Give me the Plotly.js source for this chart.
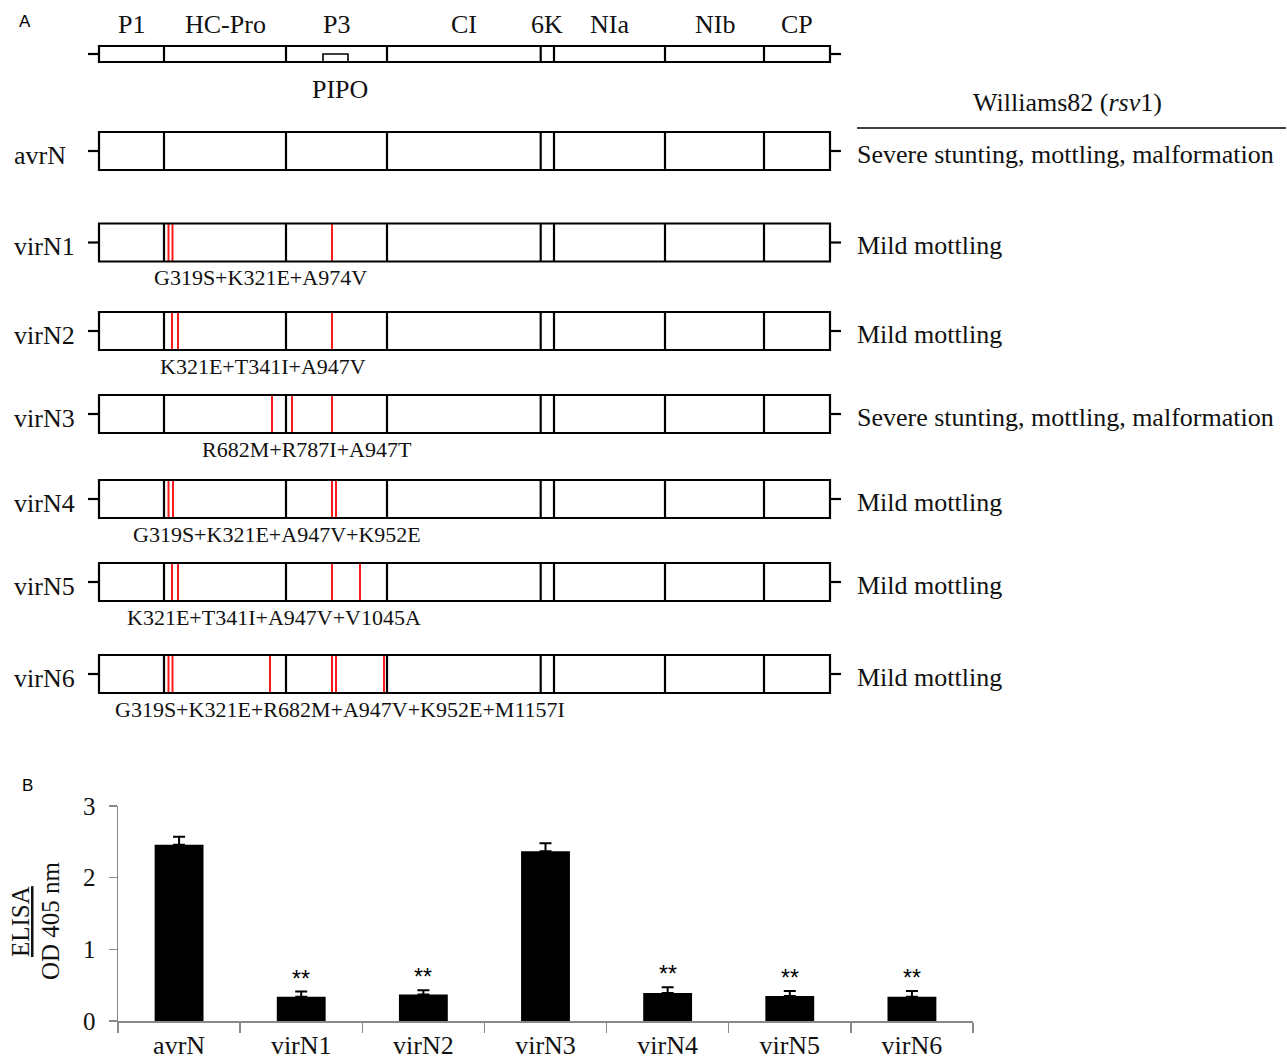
<!DOCTYPE html>
<html>
<head>
<meta charset="utf-8">
<script src="https://cdn.plot.ly/plotly-3.0.1.min.js"></script>
<style>html,body{margin:0;padding:0;background:#fff;}#chart{width:1287px;height:1064px;}</style>
</head>
<body>
<div id="chart"></div>
<script>
// ---------- DATA ----------
// Panel A: schematic genome map (positions in schematic map units along the polyprotein)
const proteins = ['P1', 'HC-Pro', 'P3', 'CI', '6K', 'NIa', 'NIb', 'CP'];
const proteinBounds = [0, 65, 187, 288, 441.7, 455, 566, 665, 731];
const pipoSpan = [224, 249];
const isolates = ['avrN', 'virN1', 'virN2', 'virN3', 'virN4', 'virN5', 'virN6'];
const mutationLabels = ['', 'G319S+K321E+A974V', 'K321E+T341I+A947V', 'R682M+R787I+A947T',
  'G319S+K321E+A947V+K952E', 'K321E+T341I+A947V+V1045A', 'G319S+K321E+R682M+A947V+K952E+M1157I'];
const mutationSites = [[], [69.5, 73.5, 233], [73, 79, 233], [173, 193, 233], [69.5, 74, 233, 237],
  [73, 79, 233, 261], [69.5, 73.5, 171, 233, 237, 285]];
const symptoms = ['Severe stunting, mottling, malformation', 'Mild mottling', 'Mild mottling',
  'Severe stunting, mottling, malformation', 'Mild mottling', 'Mild mottling', 'Mild mottling'];
const hostLabel = 'Williams82 (<i>rsv</i>1)';

// Panel B: ELISA OD405
const categories = ['avrN', 'virN1', 'virN2', 'virN3', 'virN4', 'virN5', 'virN6'];
const elisaMean = [2.46, 0.34, 0.37, 2.37, 0.39, 0.35, 0.34];
const elisaErr = [0.11, 0.07, 0.06, 0.11, 0.08, 0.07, 0.08];
const significance = ['', '**', '**', '', '**', '**', '**'];
const yTicks = [0, 1, 2, 3];

// ---------- LAYOUT CONSTANTS ----------
const W = 1287, H = 1064;
const mapLeft = 99;             // page x of map unit 0
const topBarY = [46, 62];
const rowY = [151, 242.5, 331, 414, 499, 582, 674];
const boxHalf = 19;
const mutLabelX = [0, 161.5, 164, 207.7, 177.5, 175, 241];
const serif = 'Liberation Serif, Times New Roman, serif';
const sans = 'Liberation Sans, Arial, sans-serif';
const txt = '#111';
const mapEnd = proteinBounds[proteinBounds.length - 1];

const shapes = [];
const annotations = [];
const LW = 2.2;
function seg(x0, y0, x1, y1, color, w) {
  shapes.push({type: 'line', xref: 'x2', yref: 'y2', x0, y0, x1, y1,
    line: {color: color || '#000', width: w || LW}});
}
function genomeBox(yTop, yBot) {
  const yc = (yTop + yBot) / 2;
  shapes.push({type: 'rect', xref: 'x2', yref: 'y2', x0: proteinBounds[0], x1: mapEnd,
    y0: yTop, y1: yBot, line: {color: '#000', width: LW}});
  for (let i = 1; i < proteinBounds.length - 1; i++) seg(proteinBounds[i], yTop, proteinBounds[i], yBot);
  seg(-11, yc, 0, yc);
  seg(mapEnd, yc, mapEnd + 11, yc);
}
// top map
genomeBox(topBarY[0], topBarY[1]);
shapes.push({type: 'rect', xref: 'x2', yref: 'y2', x0: pipoSpan[0], x1: pipoSpan[1],
  y0: 54, y1: topBarY[1], line: {color: '#000', width: 1.6}});
for (let i = 0; i < proteins.length; i++) {
  annotations.push({xref: 'x2', yref: 'y2', x: (proteinBounds[i] + proteinBounds[i + 1]) / 2, y: 24,
    xanchor: 'center', yanchor: 'middle',
    text: proteins[i], showarrow: false, font: {family: serif, size: 26, color: txt}});
}
annotations.push({xref: 'x2', yref: 'y2', x: (pipoSpan[0] + pipoSpan[1]) / 2 + 4, y: 89, text: 'PIPO',
  xanchor: 'center', yanchor: 'middle',
  showarrow: false, font: {family: serif, size: 26, color: txt}});

// red mutation lines as a trace
const mx = [], my = [];
isolates.forEach((iso, r) => {
  genomeBox(rowY[r] - boxHalf, rowY[r] + boxHalf);
  mutationSites[r].forEach(p => { mx.push(p, p, null); my.push(rowY[r] - boxHalf, rowY[r] + boxHalf, null); });
  annotations.push({xref: 'x2', yref: 'y2', x: -87, y: rowY[r] + 4, xanchor: 'left', yanchor: 'middle', text: iso,
    showarrow: false, font: {family: serif, size: 26, color: txt}});
  annotations.push({xref: 'x2', yref: 'y2', x: mapEnd + 25, y: rowY[r] + 3, xanchor: 'left', yanchor: 'middle',
    text: symptoms[r], showarrow: false, font: {family: serif, size: 26, color: txt}});
  if (mutationLabels[r]) {
    annotations.push({xref: 'x2', yref: 'y2', x: mutLabelX[r], y: rowY[r] + boxHalf + 16, text: mutationLabels[r],
      xanchor: 'center', yanchor: 'middle',
      showarrow: false, font: {family: serif, size: 22, color: txt}});
  }
});
annotations.push({xref: 'x2', yref: 'y2', x: 1067 - mapLeft, y: 102, text: hostLabel, showarrow: false,
  xanchor: 'center', yanchor: 'middle', font: {family: serif, size: 26, color: txt}});
seg(857 - mapLeft, 128, 1286 - mapLeft, 128, '#000', 1.6);

// panel letters
annotations.push({xref: 'paper', yref: 'paper', x: 25 / W, y: 1 - 22 / H, xanchor: 'center', yanchor: 'middle',
  text: 'A', showarrow: false, font: {family: sans, size: 17, color: '#000'}});
annotations.push({xref: 'paper', yref: 'paper', x: 27 / W, y: 1 - 785 / H, xanchor: 'center', yanchor: 'middle',
  text: 'B', showarrow: false, font: {family: sans, size: 17, color: '#000'}});

// y-axis title of panel B (two stacked rotated lines)
annotations.push({xref: 'paper', yref: 'paper', x: 20 / W, y: 1 - 922 / H, textangle: -90,
  xanchor: 'center', yanchor: 'middle', text: '<u>ELISA</u>', showarrow: false,
  font: {family: serif, size: 25, color: txt}});
annotations.push({xref: 'paper', yref: 'paper', x: 50 / W, y: 1 - 921 / H, textangle: -90,
  xanchor: 'center', yanchor: 'middle', text: 'OD 405 nm', showarrow: false,
  font: {family: serif, size: 25, color: txt}});

// stars
categories.forEach((c, i) => {
  if (significance[i]) annotations.push({xref: 'x', yref: 'y', x: c, y: elisaMean[i] + elisaErr[i],
    xanchor: 'center', yanchor: 'middle',
    yshift: 13, text: significance[i], showarrow: false, font: {family: sans, size: 23, color: '#000'}});
});

const traces = [
  {type: 'bar', x: categories, y: elisaMean, xaxis: 'x', yaxis: 'y', width: 0.4,
    marker: {color: '#000', line: {width: 0}},
    error_y: {type: 'data', array: elisaErr, arrayminus: elisaErr.map(() => 0), symmetric: false,
      color: '#000', thickness: 2, width: 6},
    hoverinfo: 'skip', showlegend: false},
  {type: 'scatter', mode: 'lines', x: mx, y: my, xaxis: 'x2', yaxis: 'y2',
    line: {color: '#ff1a1a', width: 2}, hoverinfo: 'skip', showlegend: false, connectgaps: false}
];

const layout = {
  width: W, height: H,
  margin: {l: 0, r: 0, t: 0, b: 0},
  paper_bgcolor: '#fff', plot_bgcolor: 'rgba(0,0,0,0)',
  showlegend: false,
  xaxis: {domain: [118 / W, 973 / W], anchor: 'y', type: 'category', range: [-0.5, 6.5],
    tickson: 'boundaries', ticks: 'outside', ticklen: 10, tickcolor: '#888', tickwidth: 1.5,
    showline: true, linecolor: '#888', linewidth: 1.5, showgrid: false, zeroline: false,
    tickfont: {family: serif, size: 26, color: txt}, fixedrange: true},
  yaxis: {domain: [43 / H, 258 / H], anchor: 'x', range: [0, 3], tickvals: yTicks, ticks: 'outside',
    ticklen: 8, tickcolor: '#888', tickwidth: 1.5, showline: true, linecolor: '#888', linewidth: 1.5,
    showgrid: false, zeroline: false, ticklabelstandoff: 8,
    tickfont: {family: serif, size: 25, color: txt}, fixedrange: true},
  xaxis2: {domain: [0, 1], anchor: 'y2', range: [-mapLeft, W - mapLeft], visible: false, fixedrange: true},
  yaxis2: {domain: [0, 1], anchor: 'x2', range: [H, 0], visible: false, fixedrange: true},
  shapes, annotations
};

Plotly.newPlot('chart', traces, layout, {displayModeBar: false, staticPlot: true});
</script>
</body>
</html>
